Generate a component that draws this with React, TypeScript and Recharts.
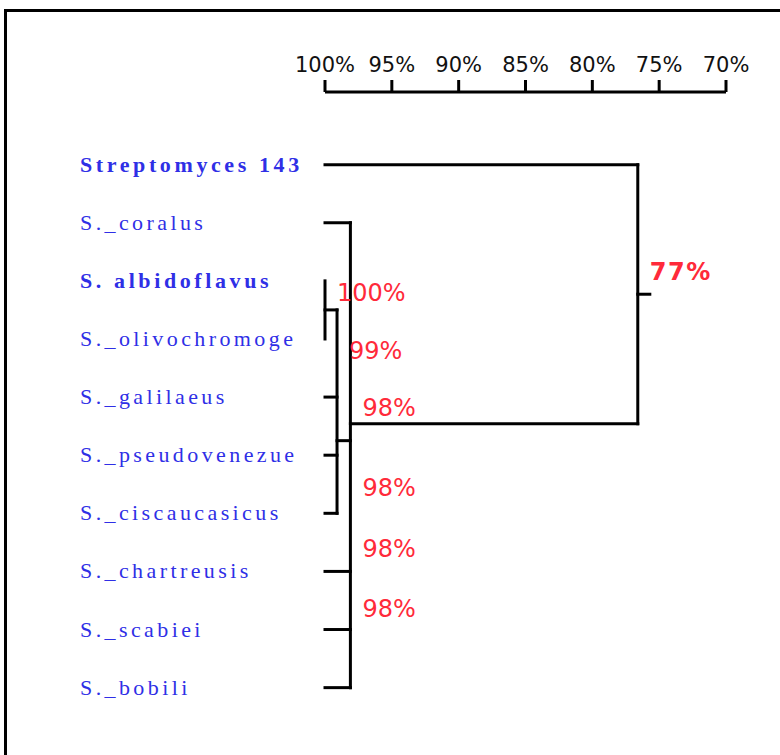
import { ComposedChart, Line, Scatter, XAxis, YAxis } from "recharts"

// leaves, top to bottom
const leafNames = [
  "Streptomyces 143",
  "S._coralus",
  "S. albidoflavus",
  "S._olivochromoge",
  "S._galilaeus",
  "S._pseudovenezue",
  "S._ciscaucasicus",
  "S._chartreusis",
  "S._scabiei",
  "S._bobili",
]
const boldLeaves = ["Streptomyces 143", "S. albidoflavus"]

// clusters (children are leaf indices or cluster ids)
const clusterIds = ["A", "B", "C", "R"]
const clusterSimilarity = [100, 99.1, 98.1, 76.6]
const clusterChildren = [
  ["2", "3"],
  ["A", "4", "5", "6"],
  ["1", "B", "7", "8", "9"],
  ["0", "C"],
]
const clusterJoinRow = [2.5, 4.75, 4.46, 2.23]
const rootStemSimilarity = 75.7

const scaleTicks = [100, 95, 90, 85, 80, 75, 70]

// similarity labels at the nodes
const nodeLabelText = ["100%", "99%", "98%", "98%", "98%", "98%", "77%"]
const nodeLabelSimilarity = [100, 99.1, 98.1, 98.1, 98.1, 98.1, 76.6]
const nodeLabelRow = [2.2, 3.2, 4.18, 5.56, 6.6, 7.64, 1.84]

type Pt = { x: number; y: number }

const nodePos = (id: string): Pt => {
  const i = clusterIds.indexOf(id)
  if (i >= 0) return { x: clusterSimilarity[i], y: clusterJoinRow[i] }
  return { x: 100, y: Number(id) }
}

const segments: Pt[][] = []
clusterIds.forEach((_, i) => {
  const sim = clusterSimilarity[i]
  const kids = clusterChildren[i].map(nodePos)
  kids.forEach((k) => {
    if (k.x !== sim) segments.push([{ x: k.x, y: k.y }, { x: sim, y: k.y }])
  })
  const ys = kids.map((k) => k.y)
  segments.push([{ x: sim, y: Math.min(...ys) }, { x: sim, y: Math.max(...ys) }])
})
const root = clusterIds.length - 1
segments.push([
  { x: clusterSimilarity[root], y: clusterJoinRow[root] },
  { x: rootStemSimilarity, y: clusterJoinRow[root] },
])

const labelPoints = nodeLabelText.map((t, i) => ({
  x: nodeLabelSimilarity[i],
  y: nodeLabelRow[i],
  text: t,
  root: i === nodeLabelText.length - 1,
}))

const LeafTick = (props: any) => {
  const { y, payload } = props
  const name = leafNames[payload.value]
  const bold = boldLeaves.includes(name)
  return (
    <text
      x={80}
      y={y}
      dy="0.32em"
      textAnchor="start"
      fill="#2f2fe6"
      fontFamily="'Liberation Serif', 'Times New Roman', serif"
      fontSize={22}
      fontWeight={bold ? 700 : 400}
      letterSpacing={bold ? 3.6 : 3.4}
    >
      {name}
    </text>
  )
}

const NodeLabel = (props: any) => {
  const { cx, cy, payload } = props
  return (
    <text
      x={cx + 12}
      y={cy}
      dy="0.36em"
      textAnchor="start"
      fill="#ff2a3a"
      fontFamily="'DejaVu Sans', Verdana, sans-serif"
      fontSize={24}
      fontWeight={payload.root ? 700 : 400}
      letterSpacing={payload.root ? 1.5 : 0}
    >
      {payload.text}
    </text>
  )
}

export default function App() {
  return (
    <div style={{ position: "absolute", left: 0, top: 0, width: 780, height: 755, overflow: "hidden", background: "#fff" }}>
      <div
        style={{
          position: "absolute",
          left: 4,
          top: 9,
          width: 820,
          height: 800,
          borderTop: "3px solid #000",
          borderLeft: "3px solid #000",
        }}
      />
      <div style={{ position: "absolute", left: 0, top: 0 }}>
        <ComposedChart width={780} height={755} margin={{ top: 0, right: 54, bottom: 9.25, left: 0 }}>
          <XAxis
            dataKey="x"
            type="number"
            orientation="top"
            domain={[70, 100]}
            reversed
            ticks={scaleTicks}
            tickFormatter={(v: number) => `${v}%`}
            height={92}
            tickSize={12}
            tickMargin={8}
            axisLine={{ stroke: "#000", strokeWidth: 3 }}
            tickLine={{ stroke: "#000", strokeWidth: 3 }}
            tick={{ fill: "#111", fontSize: 21, fontFamily: "'DejaVu Sans', Verdana, sans-serif" }}
            interval={0}
          />
          <YAxis
            dataKey="y"
            type="number"
            domain={[-1.25, 10]}
            reversed
            ticks={leafNames.map((_, i) => i)}
            interval={0}
            width={325}
            axisLine={false}
            tickLine={false}
            tick={<LeafTick />}
          />
          {segments.map((seg, i) => (
            <Line
              key={i}
              data={seg}
              dataKey="y"
              stroke="#000"
              strokeWidth={3}
              strokeLinecap="square"
              dot={false}
              activeDot={false}
              isAnimationActive={false}
            />
          ))}
          <Scatter data={labelPoints} dataKey="y" shape={<NodeLabel />} isAnimationActive={false} />
        </ComposedChart>
      </div>
    </div>
  )
}
